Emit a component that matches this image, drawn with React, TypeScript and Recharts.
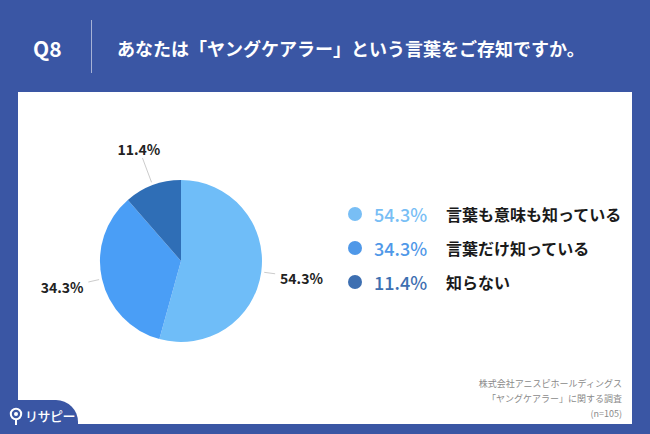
import { PieChart, Pie, Cell } from "recharts"

const categories = ["言葉も意味も知っている", "言葉だけ知っている", "知らない"]
const shares = [54.3, 34.3, 11.4]
const sliceColors = ["#6FBDF8", "#4A9EF6", "#2F6EB6"]
const legendColors = ["#78BEF5", "#4F98E8", "#3D6FB1"]
const sourceLines = ["株式会社アニスピホールディングス", "「ヤングケアラー」に関する調査", "(n=105)"]

const title = "あなたは「ヤングケアラー」という言葉をご存知ですか。"
const FONT = "'Noto Sans CJK JP', 'Noto Sans', sans-serif"
const RADIAN = Math.PI / 180

const pieData = categories.map((name, i) => ({ name, value: shares[i] }))

function renderLabel(props: any) {
  const { cx, cy, midAngle, value } = props
  const cos = Math.cos(-midAngle * RADIAN)
  const sin = Math.sin(-midAngle * RADIAN)
  const side = Math.abs(cos) > 0.5
  const r = side ? 100 : 120
  const x = cx + r * cos
  const y = cy + r * sin + (side ? 4 : 0)
  const anchor = side ? (cos > 0 ? "start" : "end") : "middle"
  return (
    <text
      x={x}
      y={y}
      textAnchor={anchor}
      dominantBaseline="central"
      fill="#222"
      fontSize={14}
      fontWeight={700}
      fontFamily={FONT}
    >
      {`${value}%`}
    </text>
  )
}

function renderLabelLine(props: any) {
  const { cx, cy, midAngle } = props
  const cos = Math.cos(-midAngle * RADIAN)
  const sin = Math.sin(-midAngle * RADIAN)
  const side = Math.abs(cos) > 0.5
  const r2 = side ? 95 : 110
  return (
    <line
      x1={cx + 84 * cos}
      y1={cy + 84 * sin}
      x2={cx + r2 * cos}
      y2={cy + r2 * sin}
      stroke="#ccc"
      strokeWidth={1}
    />
  )
}

export default function App() {
  return (
    <div
      style={{
        position: "absolute",
        left: 0,
        top: 0,
        width: 650,
        height: 434,
        background: "#3A56A4",
        fontFamily: FONT,
        overflow: "hidden",
      }}
    >
      {/* header */}
      <div style={{ position: "absolute", left: 33, top: 34, color: "#fff", fontSize: 21, fontWeight: 700, lineHeight: "28px" }}>
        Q8
      </div>
      <div style={{ position: "absolute", left: 91, top: 20, width: 1, height: 53, background: "rgba(255,255,255,0.55)" }} />
      <div style={{ position: "absolute", left: 117, top: 35, color: "#fff", fontSize: 18, fontWeight: 700, lineHeight: "26px", whiteSpace: "nowrap" }}>
        {title}
      </div>

      {/* white panel */}
      <div style={{ position: "absolute", left: 18, top: 92, width: 614, height: 332, background: "#fff" }} />

      <div style={{ position: "absolute", left: 0, top: 0 }}>
        <PieChart width={650} height={434} margin={{ top: 0, right: 0, bottom: 0, left: 0 }}>
          <Pie
            data={pieData}
            dataKey="value"
            cx={181}
            cy={261}
            outerRadius={81}
            startAngle={90}
            endAngle={-270}
            stroke="none"
            label={renderLabel}
            labelLine={renderLabelLine}
            isAnimationActive={false}
          >
            {pieData.map((d, i) => (
              <Cell key={d.name} fill={sliceColors[i]} />
            ))}
          </Pie>
        </PieChart>
      </div>

      {/* legend */}
      {categories.map((name, i) => (
        <div
          key={name}
          style={{
            position: "absolute",
            left: 348,
            top: [214, 248, 282][i] - 13,
            height: 26,
            display: "flex",
            alignItems: "center",
            whiteSpace: "nowrap",
          }}
        >
          <span style={{ width: 14, height: 14, borderRadius: 7, background: legendColors[i], display: "inline-block" }} />
          <span style={{ marginLeft: 12, width: 72, color: legendColors[i], fontSize: 18, fontWeight: 500 }}>{`${shares[i]}%`}</span>
          <span style={{ color: "#1a1a1a", fontSize: 16, fontWeight: 700 }}>{name}</span>
        </div>
      ))}

      {/* source */}
      <div style={{ position: "absolute", right: 28, top: 376, textAlign: "right", color: "#8a8a8a", fontSize: 9, lineHeight: "15px" }}>
        {sourceLines.map((s) => (
          <div key={s}>{s}</div>
        ))}
      </div>

      {/* logo tab */}
      <div style={{ position: "absolute", left: 0, top: 400, width: 78, height: 34, background: "#3A56A4", borderTopRightRadius: 22 }} />
      <svg style={{ position: "absolute", left: 9, top: 407 }} width={14} height={19}>
        <circle cx={7} cy={7} r={5.2} fill="none" stroke="#fff" strokeWidth={2} />
        <circle cx={7} cy={7} r={2} fill="#fff" />
        <line x1={7} y1={12} x2={7} y2={18} stroke="#fff" strokeWidth={2} />
      </svg>
      <div style={{ position: "absolute", left: 25, top: 406, color: "#fff", fontSize: 13, fontWeight: 500, lineHeight: "20px", letterSpacing: -0.5, whiteSpace: "nowrap" }}>
        リサピー
      </div>
    </div>
  )
}
